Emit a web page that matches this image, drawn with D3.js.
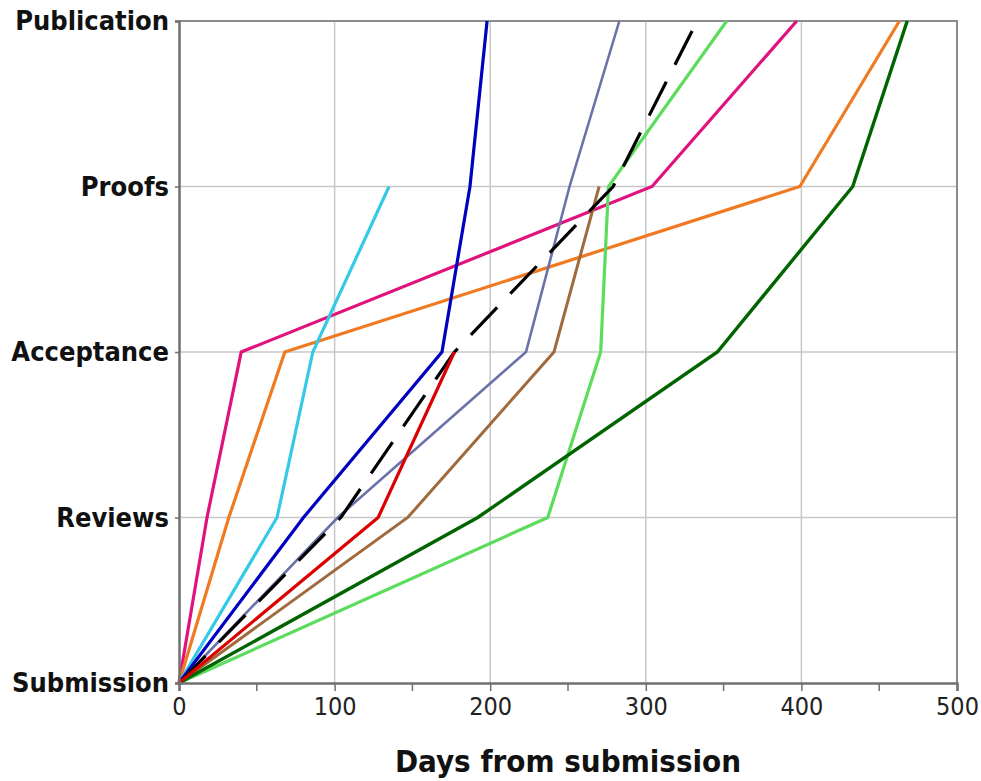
<!DOCTYPE html>
<html>
<head>
<meta charset="utf-8">
<script src="https://cdn.jsdelivr.net/npm/d3@7"></script>
<style>
  html, body { margin: 0; padding: 0; background: #fff; }
  svg { display: block; }
  .lbl { font-family: "DejaVu Sans Condensed", "DejaVu Sans", sans-serif; font-stretch: condensed; }
</style>
</head>
<body>
<svg id="chart" width="981" height="781"></svg>
<script>
// ---- data (days from submission at each stage; null = not reached) ----
const stages = ["Submission", "Reviews", "Acceptance", "Proofs", "Publication"];
const xTicks = [0, 100, 200, 300, 400, 500];
const xMinorTicks = [50, 150, 250, 350, 450];

const magentaDays   = [0, 18, 40, 304, 397];
const orangeDays    = [0, 32, 68, 399, 463];
const cyanDays      = [0, 63, 86, 135, null];
const blueDays      = [0, 80, 169, 187, 198];
const slateDays     = [0, 102, 223, 251, 283];
const brownDays     = [0, 147, 241, 270, null];
const lightGreenDays= [0, 237, 271, 276, 352];
const darkGreenDays = [0, 192, 346, 433, 468];
const redDays       = [0, 128, 177, null, null];
const averageDays   = [0, 104, 177, 279, 333];

const series = [
  { name: "magenta",    days: magentaDays,    color: "#e0127d", width: 3.2 },
  { name: "orange",     days: orangeDays,     color: "#f07a22", width: 3.2 },
  { name: "cyan",       days: cyanDays,       color: "#35c9e8", width: 3.2 },
  { name: "blue",       days: blueDays,       color: "#0000c0", width: 3.2 },
  { name: "slate",      days: slateDays,      color: "#6a72a8", width: 2.6 },
  { name: "brown",      days: brownDays,      color: "#a06a3c", width: 3 },
  { name: "lightgreen", days: lightGreenDays, color: "#5cdc5c", width: 3.2 },
  { name: "darkgreen",  days: darkGreenDays,  color: "#006400", width: 3.4 },
  { name: "average",    days: averageDays,    color: "#000000", width: 3.2, dash: "38,19" },
  { name: "red",        days: redDays,        color: "#dd0000", width: 3.2 }
];

// ---- layout ----
const svg = d3.select("#chart");
const x = d3.scaleLinear().domain([0, 500]).range([179, 957]);
const y = d3.scalePoint().domain(stages).range([683, 21]);

// gridlines
const grid = svg.append("g");
grid.selectAll("line.vg").data(xTicks.filter(d => d > 0 && d < 500)).join("line")
  .attr("x1", d => x(d)).attr("x2", d => x(d))
  .attr("y1", y("Publication")).attr("y2", y("Submission"))
  .attr("stroke", "#c8c8c8").attr("stroke-width", 1.5);
grid.selectAll("line.hg").data(stages.slice(1, 4)).join("line")
  .attr("x1", x(0)).attr("x2", x(500))
  .attr("y1", d => y(d)).attr("y2", d => y(d))
  .attr("stroke", "#c8c8c8").attr("stroke-width", 1.5);

// plot frame (top, right)
svg.append("path")
  .attr("d", `M${x(0)},${y("Publication")}H${x(500)}V${y("Submission")}`)
  .attr("fill", "none").attr("stroke", "#8c8c8c").attr("stroke-width", 2);

// series lines
const line = d3.line()
  .defined(d => d.v != null)
  .x(d => x(d.v))
  .y(d => y(d.s));

svg.append("g").selectAll("path").data(series).join("path")
  .attr("d", s => line(s.days.map((v, i) => ({ v, s: stages[i] }))))
  .attr("fill", "none")
  .attr("stroke", s => s.color)
  .attr("stroke-width", s => s.width)
  .attr("stroke-linejoin", "miter")
  .attr("stroke-dasharray", s => s.dash || null);

// x axis
const xAxis = d3.axisBottom(x).tickValues(xTicks).tickSize(8).tickPadding(6).tickFormat(d3.format("d"));
const gx = svg.append("g").attr("transform", `translate(0,${y("Submission")})`).call(xAxis);
gx.select(".domain").attr("stroke", "#707070").attr("stroke-width", 2.5);
gx.selectAll(".tick line").attr("stroke", "#707070").attr("stroke-width", 1.5);
gx.selectAll(".tick text").attr("class", "lbl").attr("font-size", 25).attr("fill", "#222");
svg.append("g").selectAll("line").data(xMinorTicks).join("line")
  .attr("x1", d => x(d)).attr("x2", d => x(d))
  .attr("y1", y("Submission")).attr("y2", y("Submission") + 8)
  .attr("stroke", "#707070").attr("stroke-width", 1.5);

// y axis
const yAxis = d3.axisLeft(y).tickSize(4).tickPadding(6);
const gy = svg.append("g").attr("transform", `translate(${x(0)},0)`).call(yAxis);
gy.select(".domain").attr("stroke", "#707070").attr("stroke-width", 2.5);
gy.selectAll(".tick line").attr("stroke", "#707070").attr("stroke-width", 1.5);
gy.selectAll(".tick text").attr("class", "lbl").attr("font-size", 27).attr("font-weight", "bold").attr("fill", "#111");

// x title
svg.append("text").attr("class", "lbl")
  .attr("x", (x(0) + x(500)) / 2).attr("y", 772)
  .attr("text-anchor", "middle").attr("font-size", 31).attr("font-weight", "bold").attr("fill", "#111")
  .text("Days from submission");
</script>
</body>
</html>
